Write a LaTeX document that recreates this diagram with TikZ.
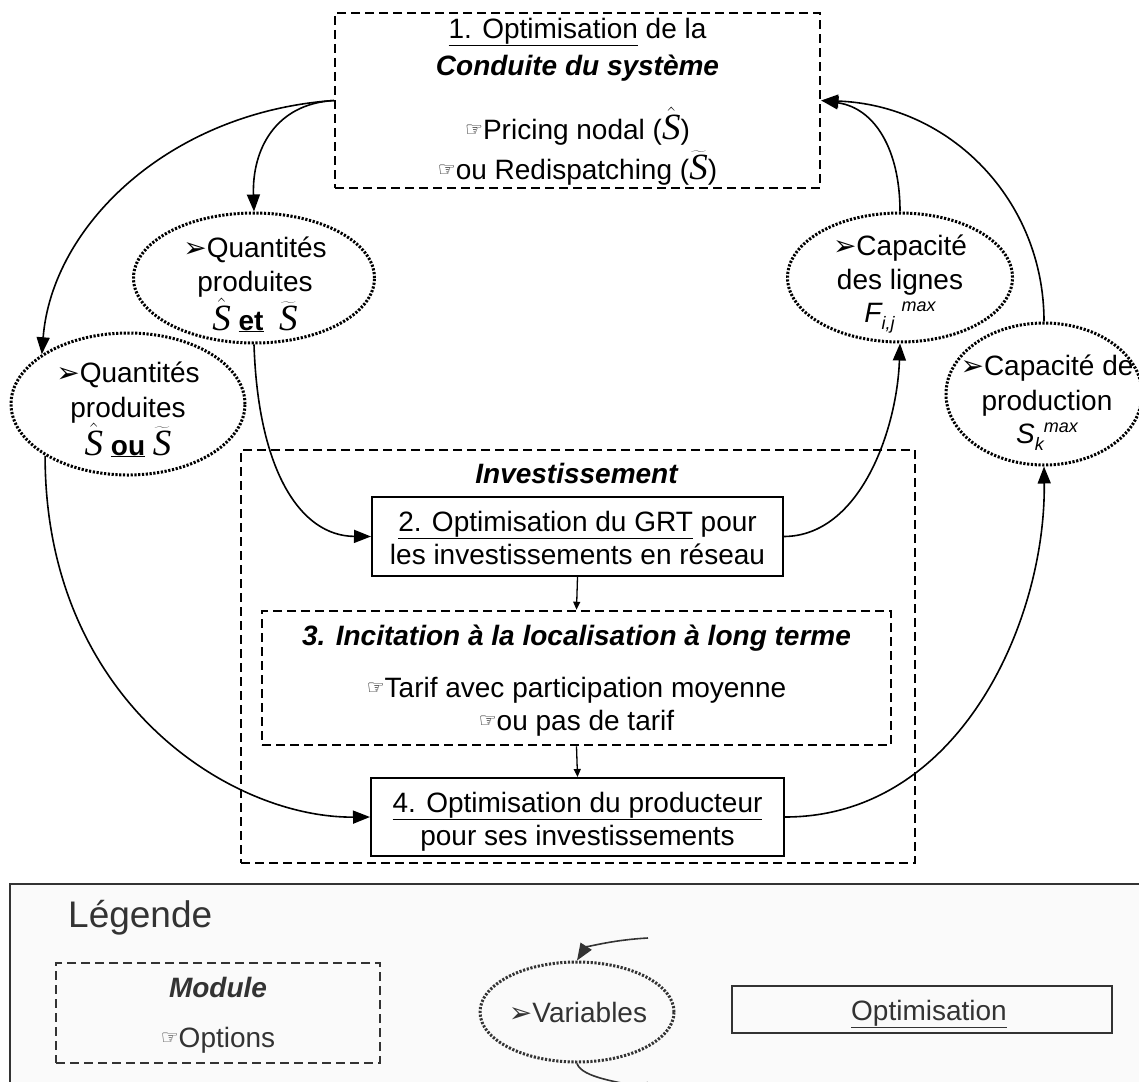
\RequirePackage{fix-cm}
\documentclass[tikz,border=0pt]{standalone}
\usepackage[no-math]{fontspec}
\setmainfont{Liberation Sans}
\newfontfamily\dejavu{DejaVu Sans}
\newfontfamily\timesf{Liberation Serif}
\usetikzlibrary{arrows.meta,shapes.geometric}
\definecolor{legc}{RGB}{51,51,51}
\definecolor{legfill}{RGB}{250,250,250}
\newcommand{\myhand}{\raisebox{3pt}{\dejavu\fontsize{20}{20}\selectfont ☞}}
\newcommand{\mytri}{\raisebox{0pt}{\dejavu\fontsize{28}{28}\selectfont ➢}}
\newcommand{\mySfont}{\timesf\itshape\fontsize{37}{37}\selectfont}
\newcommand{\myShat}{$\hat{\mbox{\mySfont S}}$}
\newcommand{\myStil}{$\widetilde{\mbox{\mySfont S}}$}
\begin{document}
\begin{tikzpicture}[x=1pt,y=-1pt,
  font=\fontsize{28}{34}\selectfont,
  arr/.style={line width=1.6pt,-{Triangle[length=17pt,width=13pt]}},
  sarr/.style={line width=1.3pt,-{Triangle[length=8pt,width=7pt]}},
  modbox/.style={draw,line width=2.5pt,dash pattern=on 9pt off 5pt,rectangle,inner sep=0pt},
  optbox/.style={draw,line width=2pt,rectangle,inner sep=0pt},
  varell/.style={draw,ellipse,line width=3pt,dash pattern=on 2.2pt off 1.6pt,inner sep=0pt},
  txt/.style={inner sep=0pt,anchor=base}]
\clip (0,0) rectangle (1139,1081);
\fill[white] (0,0) rectangle (1139,1081);

% ---------- module 1
\node[modbox,minimum width=485pt,minimum height=175pt] (b1) at (577.5,100.5) {};
\node[txt] (b1a) at (577.5,38) {\underline{1. Optimisation} de la};
\node[txt] (b1b) at (577.5,75) {\textbf{\textit{Conduite du système}}};
\node[txt] (b1c) at (577.5,139) {\myhand Pricing nodal (\myShat)};
\node[txt] (b1d) at (577.5,179) {\myhand ou Redispatching (\myStil)};

% ---------- variable ellipses
\node[varell,minimum width=241pt,minimum height=130pt] (q1) at (254,278) {};
\node[txt] (q1a) at (255,257) {\mytri Quantités};
\node[txt] (q1b) at (255,291) {produites};
\node[txt] (q1c) at (255,330) {\myShat\ \textbf{\underline{et}}\ \ \myStil};

\node[varell,minimum width=234pt,minimum height=142pt] (q2) at (128,404) {};
\node[txt] (q2a) at (128,382) {\mytri Quantités};
\node[txt] (q2b) at (128,417) {produites};
\node[txt] (q2c) at (128,455) {\myShat\ \textbf{\underline{ou}}\ \myStil};

\node[varell,minimum width=225pt,minimum height=129pt] (cl) at (900,277.5) {};
\node[txt] (cla) at (900,255) {\mytri Capacité};
\node[txt] (clb) at (900,289) {des lignes};
\node[txt] (clc) at (900,322) {\itshape F\raisebox{-7pt}{\fontsize{18}{18}\selectfont i,j}\hspace{7pt}\raisebox{11pt}{\fontsize{18}{18}\selectfont max}};

\node[varell,minimum width=196pt,minimum height=142pt] (cp) at (1044,394) {};
\node[txt] (cpa) at (1047,375) {\mytri Capacité de};
\node[txt] (cpb) at (1047,410) {production};
\node[txt] (cpc) at (1047,443) {\itshape S\raisebox{-7pt}{\fontsize{18}{18}\selectfont k}\raisebox{11pt}{\fontsize{18}{18}\selectfont max}};

% ---------- investissement
\node[modbox,minimum width=674pt,minimum height=413pt] (inv) at (578,656.5) {};
\node[txt] (invt) at (577,483) {\textbf{\textit{Investissement}}};

\node[optbox,minimum width=411pt,minimum height=79pt] (b2) at (577.5,536.5) {};
\node[txt] (b2a) at (577.5,531) {\underline{2. Optimisation du GRT} pour};
\node[txt] (b2b) at (577.5,564) {les investissements en réseau};

\node[modbox,minimum width=629pt,minimum height=134pt] (b3) at (576.5,678) {};
\node[txt] (b3a) at (576.5,645) {\textbf{\textit{3. Incitation à la localisation à long terme}}};
\node[txt] (b3b) at (576.5,697) {\myhand Tarif avec participation moyenne};
\node[txt] (b3c) at (576.5,730) {\myhand ou pas de tarif};

\node[optbox,minimum width=413pt,minimum height=78pt] (b4) at (577.5,817) {};
\node[txt] (b4a) at (577.5,812) {\underline{4. Optimisation du producteur}};
\node[txt] (b4b) at (577.5,845) {pour ses investissements};

% ---------- connectors
\draw[arr] (b1.west) .. controls (170,112) and (52,225) .. (q2.150);
\draw[arr] (b1.west) .. controls (275,104) and (252,150) .. (q1.north);
\draw[arr] (q1.south) .. controls (258,470) and (300,536) .. (b2.west);
\draw[arr] (q2.212) .. controls (45,700) and (230,818) .. (b4.west);
\draw[arr] (b2.east) .. controls (860,536) and (897,430) .. (cl.south);
\draw[arr] (b4.east) .. controls (960,817) and (1046,620) .. (cp.south);
\draw[arr] (cl.north) .. controls (900,150) and (875,108) .. (b1.east);
\draw[arr] (cp.north) .. controls (1044,200) and (950,105) .. (b1.east);
\draw[sarr] (b2.south) -- (b3.north);
\draw[sarr] (b3.south) -- (b4.north);

% ---------- legend
\begin{scope}[legc]
\node[draw=legc,fill=legfill,line width=1.5pt,rectangle,minimum width=1150pt,minimum height=230pt,anchor=north west,inner sep=0pt] (leg) at (9,883) {};
\node[inner sep=0pt,anchor=base west,font=\fontsize{37}{40}\selectfont] (legt) at (68,927) {Légende};
\node[modbox,draw=legc,minimum width=324pt,minimum height=100pt] (lm) at (218,1013) {};
\node[txt] (lma) at (218,997) {\textbf{\textit{Module}}};
\node[txt] (lmb) at (218,1047) {\myhand Options};
\node[varell,draw=legc,minimum width=194pt,minimum height=100pt] (lv) at (577,1012) {};
\node[txt] (lva) at (578,1022) {\mytri Variables};
\node[optbox,draw=legc,minimum width=380pt,minimum height=47pt] (lo) at (922,1009.5) {};
\node[txt] (loa) at (929,1020) {\underline{Optimisation}};
\coordinate (lin) at (648,938);
\coordinate (lout) at (662,1092);
\draw[arr,legc] (lin) .. controls (610,940) and (585,948) .. (lv.north);
\draw[arr,legc] (lv.south) .. controls (582,1078) and (620,1082) .. (lout);
\end{scope}
\end{tikzpicture}
\end{document}
